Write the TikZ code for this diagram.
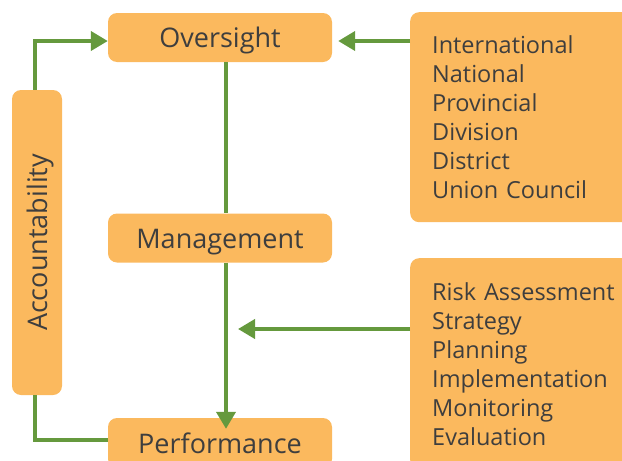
\documentclass[tikz,border=0pt]{standalone}
\usepackage{fontspec}
\setmainfont{Open Sans}
\usetikzlibrary{arrows.meta}
\definecolor{boxorange}{HTML}{FBB95E}
\definecolor{linegreen}{HTML}{65993D}
\definecolor{textgray}{HTML}{3E3E3E}
\tikzset{
  stage/.style={fill=boxorange,rounded corners=9pt,minimum width=224pt,
    minimum height=49pt,text=textgray,font=\fontsize{27}{30}\selectfont,
    text height=22pt,text depth=2pt},
  listbox/.style={fill=boxorange,rounded corners=9pt,minimum width=230pt,
    minimum height=210pt,text=textgray,align=left,text width=190pt,
    inner xsep=22pt,anchor=north west,font=\fontsize{23.5}{29}\selectfont},
  flow/.style={draw=linegreen,line width=4pt,-{Triangle[length=17pt,width=19pt]}},
  link/.style={draw=linegreen,line width=4pt}
}
\begin{document}
\begin{tikzpicture}[x=1pt,y=-1pt]
  \useasboundingbox (0,0) rectangle (622,461);
  \node[stage] (over) at (220,37.5) {Oversight};
  \node[stage] (mgmt) at (220,238) {Management};
  \node[stage,minimum height=50pt] (perf) at (220,443) {Performance};
  \node[stage,minimum width=305pt,minimum height=50pt,rotate=90] (acc) at (37,242.5) {Accountability};
  \node[listbox] (levels) at (410,12) {International\\National\\Provincial\\Division\\District\\Union Council};
  \node[listbox,minimum height=211pt] (cycle) at (410,258) {Risk Assessment\\Strategy\\Planning\\Implementation\\Monitoring\\Evaluation};
  % connectors
  \coordinate (ovin) at ([xshift=6pt,yshift=-3.5pt]over.east);
  \coordinate (mid) at (238,329);
  \draw[flow] ([xshift=-2pt]acc.east) |- ([yshift=-3.5pt]over.west);
  \draw[flow] (ovin -| levels.west) -- (ovin);
  \draw[link] ([xshift=6pt]over.south) -- ([xshift=6pt]mgmt.north);
  \draw[flow] ([xshift=6pt]mgmt.south) -- ([xshift=6pt,yshift=-11pt]perf.north);
  \draw[flow] (mid -| cycle.west) -- (mid);
  \draw[link] ([xshift=-2pt]acc.west) |- ([yshift=3pt]perf.west);
\end{tikzpicture}
\end{document}
